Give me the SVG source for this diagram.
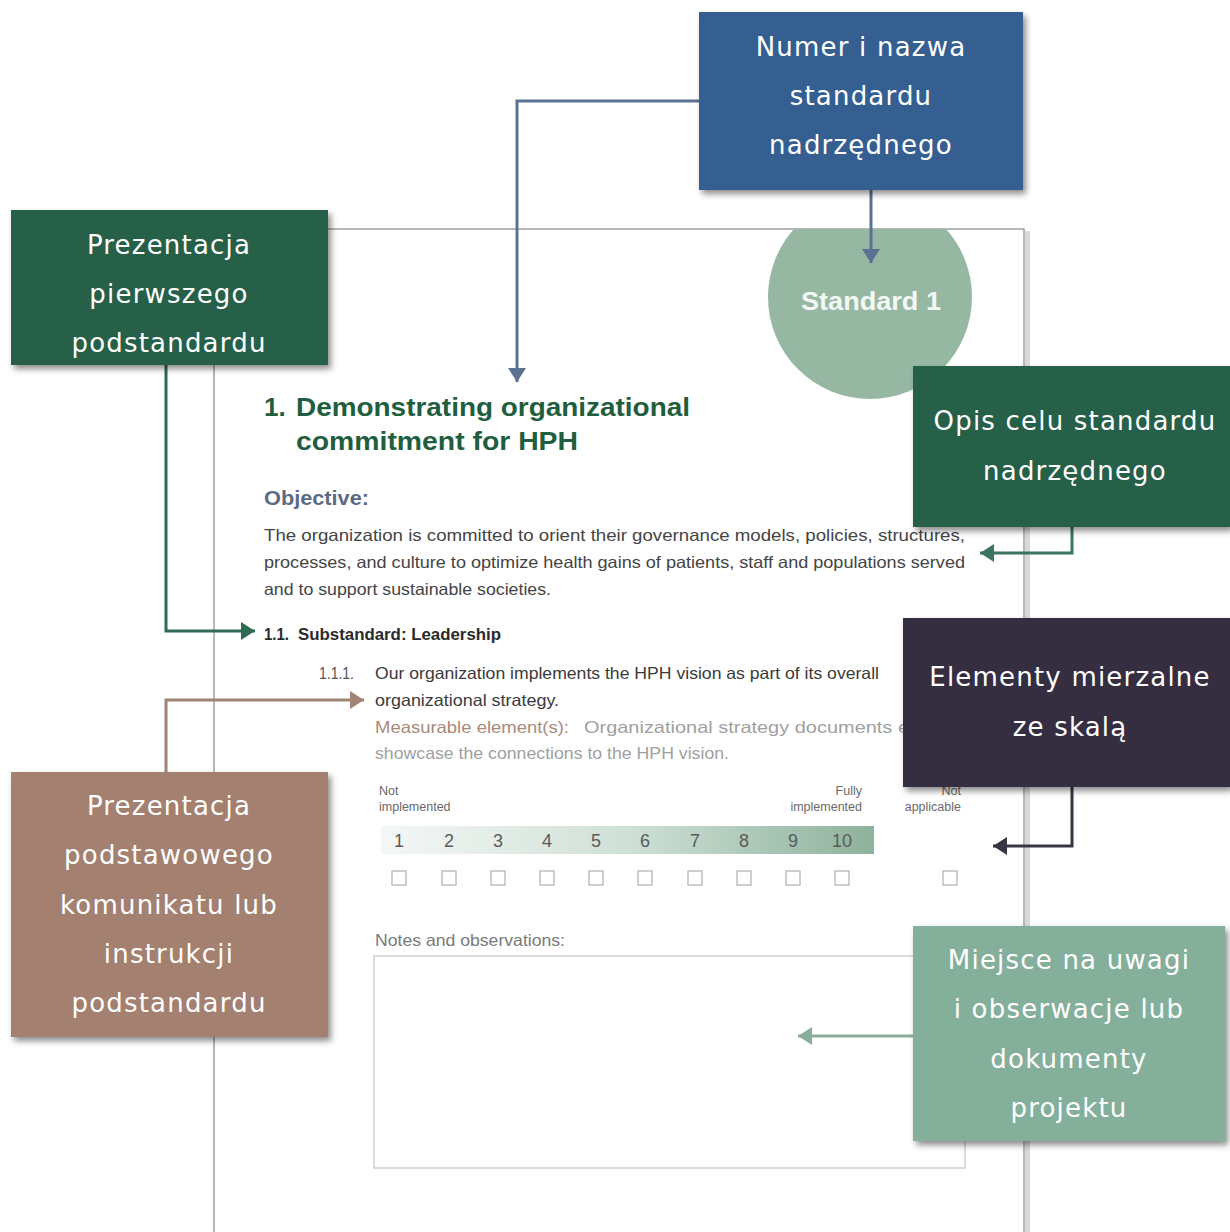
<svg xmlns="http://www.w3.org/2000/svg" width="1230" height="1232" viewBox="0 0 1230 1232">
<style>
.lbl{font-family:"DejaVu Sans",sans-serif;font-size:26px;fill:#ffffff;text-anchor:middle;letter-spacing:1.2px}
.doc{font-family:"Liberation Sans",sans-serif}
.num{font-family:"Liberation Sans",sans-serif;font-size:18px;fill:#5a5a5a;text-anchor:middle}
.sc{font-family:"Liberation Sans",sans-serif;font-size:12.5px;fill:#6a6a6a}
.cb{fill:#ffffff;stroke:#b0b0b0;stroke-width:1.2}
.con{fill:none;stroke-width:3}
</style>
<defs>
<filter id="sh" x="-10%" y="-10%" width="125%" height="130%">
<feDropShadow dx="3" dy="4" stdDeviation="3" flood-color="#000" flood-opacity="0.45"/>
</filter>
<clipPath id="pageclip"><rect x="214" y="229" width="810" height="1003"/></clipPath>
<linearGradient id="grad" x1="0" y1="0" x2="1" y2="0">
<stop offset="0" stop-color="#f5f8f6"/>
<stop offset="0.5" stop-color="#cfe0d6"/>
<stop offset="1" stop-color="#8db29c"/>
</linearGradient>
<marker id="mBlue" markerUnits="userSpaceOnUse" markerWidth="18" markerHeight="20" refX="14" refY="10" orient="auto"><path d="M0,1 L14,10 L0,19 Z" fill="#5a7190"/></marker>
<marker id="mGreen" markerUnits="userSpaceOnUse" markerWidth="18" markerHeight="20" refX="14" refY="10" orient="auto"><path d="M0,1 L14,10 L0,19 Z" fill="#2f6b52"/></marker>
<marker id="mGreen2" markerUnits="userSpaceOnUse" markerWidth="18" markerHeight="20" refX="14" refY="10" orient="auto"><path d="M0,1 L14,10 L0,19 Z" fill="#3c7560"/></marker>
<marker id="mDark" markerUnits="userSpaceOnUse" markerWidth="18" markerHeight="20" refX="14" refY="10" orient="auto"><path d="M0,1 L14,10 L0,19 Z" fill="#3a3545"/></marker>
<marker id="mBrown" markerUnits="userSpaceOnUse" markerWidth="18" markerHeight="20" refX="14" refY="10" orient="auto"><path d="M0,1 L14,10 L0,19 Z" fill="#a08474"/></marker>
<marker id="mLight" markerUnits="userSpaceOnUse" markerWidth="18" markerHeight="20" refX="14" refY="10" orient="auto"><path d="M0,1 L14,10 L0,19 Z" fill="#8aae9c"/></marker>
</defs>
<rect x="0" y="0" width="1230" height="1232" fill="#ffffff"/>

<g id="page">
<rect x="1025" y="231" width="5" height="1001" fill="#d8d8d8"/>
<path d="M214,1232 V229 H1024 V1232" fill="none" stroke="#a0a0a0" stroke-width="1.5"/>
<circle cx="870" cy="297" r="102" fill="#96b8a3" clip-path="url(#pageclip)"/>
<text x="871" y="310" class="doc" font-size="26" font-weight="bold" fill="#f4f8f5" text-anchor="middle" textLength="140" lengthAdjust="spacingAndGlyphs">Standard 1</text>
<text x="264" y="416" class="doc" font-size="26" font-weight="bold" fill="#1f5e3e">1.</text>
<text x="296" y="416" class="doc" font-size="26" font-weight="bold" fill="#1f5e3e" textLength="394" lengthAdjust="spacingAndGlyphs">Demonstrating organizational</text>
<text x="296" y="450" class="doc" font-size="26" font-weight="bold" fill="#1f5e3e" textLength="282" lengthAdjust="spacingAndGlyphs">commitment for HPH</text>
<text x="264" y="505" class="doc" font-size="21" font-weight="bold" fill="#5b6b84" textLength="105" lengthAdjust="spacingAndGlyphs">Objective:</text>
<text x="264" y="541" class="doc" font-size="16.5" fill="#444444" textLength="701" lengthAdjust="spacingAndGlyphs">The organization is committed to orient their governance models, policies, structures,</text>
<text x="264" y="568" class="doc" font-size="16.5" fill="#444444" textLength="701" lengthAdjust="spacingAndGlyphs">processes, and culture to optimize health gains of patients, staff and populations served</text>
<text x="264" y="595" class="doc" font-size="16.5" fill="#444444" textLength="287" lengthAdjust="spacingAndGlyphs">and to support sustainable societies.</text>
<text x="264" y="640" class="doc" font-size="16" font-weight="bold" fill="#2a2a2a" textLength="25" lengthAdjust="spacingAndGlyphs">1.1.</text>
<text x="298" y="640" class="doc" font-size="16" font-weight="bold" fill="#2a2a2a" textLength="203" lengthAdjust="spacingAndGlyphs">Substandard: Leadership</text>
<text x="319" y="679" class="doc" font-size="16" fill="#555555" textLength="35" lengthAdjust="spacingAndGlyphs">1.1.1.</text>
<text x="375" y="679" class="doc" font-size="16.5" fill="#3a3a3a" textLength="504" lengthAdjust="spacingAndGlyphs">Our organization implements the HPH vision as part of its overall</text>
<text x="375" y="706" class="doc" font-size="16.5" fill="#3a3a3a" textLength="184" lengthAdjust="spacingAndGlyphs">organizational strategy.</text>
<text x="375" y="733" class="doc" font-size="16.5" fill="#a98a7a" textLength="194" lengthAdjust="spacingAndGlyphs">Measurable element(s):</text>
<text x="584" y="733" class="doc" font-size="16.5" fill="#a0a0a0" textLength="325" lengthAdjust="spacingAndGlyphs">Organizational strategy documents e</text>
<text x="375" y="759" class="doc" font-size="16.5" fill="#a0a0a0" textLength="354" lengthAdjust="spacingAndGlyphs">showcase the connections to the HPH vision.</text>
<text x="379" y="795" class="sc">Not</text>
<text x="379" y="811" class="sc">implemented</text>
<text x="862" y="795" class="sc" text-anchor="end">Fully</text>
<text x="862" y="811" class="sc" text-anchor="end">implemented</text>
<text x="961" y="795" class="sc" text-anchor="end">Not</text>
<text x="961" y="811" class="sc" text-anchor="end">applicable</text>
<rect x="381" y="826" width="493" height="28" fill="url(#grad)"/>
<text x="399" y="847" class="num">1</text>
<text x="449" y="847" class="num">2</text>
<text x="498" y="847" class="num">3</text>
<text x="547" y="847" class="num">4</text>
<text x="596" y="847" class="num">5</text>
<text x="645" y="847" class="num">6</text>
<text x="695" y="847" class="num">7</text>
<text x="744" y="847" class="num">8</text>
<text x="793" y="847" class="num">9</text>
<text x="842" y="847" class="num">10</text>
<rect x="392" y="871" width="14" height="14" class="cb"/>
<rect x="442" y="871" width="14" height="14" class="cb"/>
<rect x="491" y="871" width="14" height="14" class="cb"/>
<rect x="540" y="871" width="14" height="14" class="cb"/>
<rect x="589" y="871" width="14" height="14" class="cb"/>
<rect x="638" y="871" width="14" height="14" class="cb"/>
<rect x="688" y="871" width="14" height="14" class="cb"/>
<rect x="737" y="871" width="14" height="14" class="cb"/>
<rect x="786" y="871" width="14" height="14" class="cb"/>
<rect x="835" y="871" width="14" height="14" class="cb"/>
<rect x="943" y="871" width="14" height="14" class="cb"/>
<text x="375" y="946" class="doc" font-size="16.5" fill="#7a7a7a" textLength="190" lengthAdjust="spacingAndGlyphs">Notes and observations:</text>
<rect x="374" y="956" width="591" height="212" fill="none" stroke="#cfcfcf" stroke-width="1.5"/>
</g>

<g id="connectors">
<path d="M699,101 H517 V382" class="con" stroke="#5a7190" marker-end="url(#mBlue)"/>
<path d="M871,190 V263" class="con" stroke="#5a7190" marker-end="url(#mBlue)"/>
<path d="M166,365 V631 H255" class="con" stroke="#2f6b52" marker-end="url(#mGreen)"/>
<path d="M1072,527 V553 H980" class="con" stroke="#3c7560" marker-end="url(#mGreen2)"/>
<path d="M1072,787 V846 H993" class="con" stroke="#3a3545" marker-end="url(#mDark)"/>
<path d="M166,772 V700 H364" class="con" stroke="#a08474" marker-end="url(#mBrown)"/>
<path d="M913,1036 H798" class="con" stroke="#8aae9c" marker-end="url(#mLight)"/>
</g>

<g id="box-numer">
<rect x="699" y="12" width="324" height="178" fill="#365f91" filter="url(#sh)"/>
<text class="lbl" x="861" y="56">Numer i nazwa</text>
<text class="lbl" x="861" y="105">standardu</text>
<text class="lbl" x="861" y="154">nadrzędnego</text>
</g>
<g id="box-pierwszy">
<rect x="11" y="210" width="317" height="155" fill="#27604a" filter="url(#sh)"/>
<text class="lbl" x="169" y="254">Prezentacja</text>
<text class="lbl" x="169" y="303">pierwszego</text>
<text class="lbl" x="169" y="352">podstandardu</text>
</g>
<g id="box-opis">
<rect x="913" y="366" width="317" height="161" fill="#27604a" filter="url(#sh)"/>
<text class="lbl" x="1075" y="430">Opis celu standardu</text>
<text class="lbl" x="1075" y="480">nadrzędnego</text>
</g>
<g id="box-elementy">
<rect x="903" y="618" width="327" height="169" fill="#352f3f" filter="url(#sh)"/>
<text class="lbl" x="1070" y="686">Elementy mierzalne</text>
<text class="lbl" x="1070" y="736">ze skalą</text>
</g>
<g id="box-komunikat">
<rect x="11" y="772" width="317" height="265" fill="#a38070" filter="url(#sh)"/>
<text class="lbl" x="169" y="815">Prezentacja</text>
<text class="lbl" x="169" y="864">podstawowego</text>
<text class="lbl" x="169" y="914">komunikatu lub</text>
<text class="lbl" x="169" y="963">instrukcji</text>
<text class="lbl" x="169" y="1012">podstandardu</text>
</g>
<g id="box-uwagi">
<rect x="913" y="926" width="312" height="215" fill="#84af9b" filter="url(#sh)"/>
<text class="lbl" x="1069" y="969">Miejsce na uwagi</text>
<text class="lbl" x="1069" y="1018">i obserwacje lub</text>
<text class="lbl" x="1069" y="1068">dokumenty</text>
<text class="lbl" x="1069" y="1117">projektu</text>
</g>
</svg>
